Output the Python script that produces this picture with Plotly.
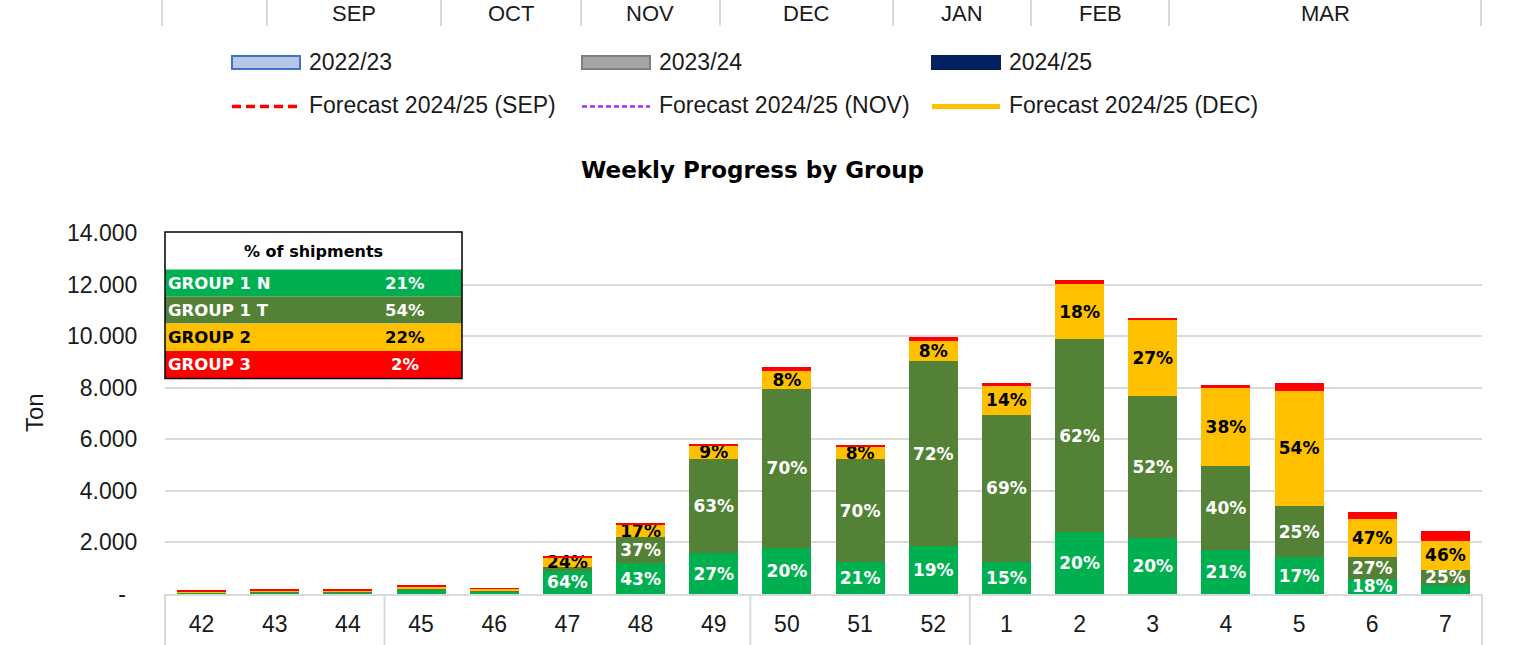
import plotly.graph_objects as go

# ---------------- data ----------------
weeks = ['42', '43', '44', '45', '46', '47', '48', '49', '50', '51', '52',
         '1', '2', '3', '4', '5', '6', '7']
group1_n = [40, 60, 70, 170, 90, 910, 1190, 1580, 1800, 1230, 1860, 1260, 2400, 2160, 1700, 1420, 590, 340]
group1_t = [15, 20, 20, 30, 30, 140, 1030, 3640, 6140, 4010, 7160, 5670, 7480, 5530, 3250, 2000, 860, 600]
group2 = [30, 50, 60, 60, 80, 370, 470, 540, 700, 470, 800, 1150, 2140, 2920, 3050, 4460, 1470, 1130]
group3 = [45, 30, 30, 90, 20, 30, 60, 60, 160, 80, 130, 110, 150, 90, 90, 310, 270, 360]

label_g1n = ['', '', '', '', '', '64%', '43%', '27%', '20%', '21%', '19%', '15%', '20%', '20%', '21%', '17%', '18%', '']
label_g1t = ['', '', '', '', '', '', '37%', '63%', '70%', '70%', '72%', '69%', '62%', '52%', '40%', '25%', '27%', '25%']
label_g2 = ['', '', '', '', '', '24%', '17%', '9%', '8%', '8%', '8%', '14%', '18%', '27%', '38%', '54%', '47%', '46%']

series_names = ['GROUP 1 N', 'GROUP 1 T', 'GROUP 2', 'GROUP 3']
table_title = '% of shipments'
table_shares = ['21%', '54%', '22%', '2%']

month_labels = ['SEP', 'OCT', 'NOV', 'DEC', 'JAN', 'FEB', 'MAR']
legend_labels = ['2022/23', '2023/24', '2024/25',
                 'Forecast 2024/25 (SEP)', 'Forecast 2024/25 (NOV)', 'Forecast 2024/25 (DEC)']

y_tick_vals = [0, 2000, 4000, 6000, 8000, 10000, 12000, 14000]
y_tick_text = ['-\u2002', '2.000', '4.000', '6.000', '8.000', '10.000', '12.000', '14.000']

chart_title = 'Weekly Progress by Group'
y_title = 'Ton'

# ---------------- style / layout ----------------
W, H = 1517, 645
L, R, T, B = 165, 1482, 233, 594   # plot area in pixels
GREEN, DKGREEN, YELLOW, RED = '#00B050', '#538135', '#FFC000', '#FF0000'
GRID = '#D9D9D9'
AX_FONT = 'Liberation Sans, Arial, sans-serif'
BOLD_FONT = 'DejaVu Sans, sans-serif'
TXT = '#1a1a1a'


def px(xp):
    return (xp - L) / (R - L)


def py(yp):
    return (B - yp) / (B - T)


fig = go.Figure()

colors = [GREEN, DKGREEN, YELLOW, RED]
values = [group1_n, group1_t, group2, group3]
labels = [label_g1n, label_g1t, label_g2, [''] * len(weeks)]
text_colors = ['white', 'white', 'black', 'white']
for name, vals, col, lab, tc in zip(series_names, values, colors, labels, text_colors):
    fig.add_trace(go.Bar(
        x=weeks, y=vals, name=name,
        marker=dict(color=col, line=dict(width=0)),
        text=lab, textposition='inside', insidetextanchor='middle', textangle=0,
        insidetextfont=dict(family=BOLD_FONT, size=17, color=tc, weight='bold'),
        cliponaxis=True, showlegend=False, hoverinfo='skip',
    ))

shapes = []
annotations = []

# header strip (month separators)
for xp in [162, 267, 441, 581, 720, 893, 1031, 1169, 1481]:
    shapes.append(dict(type='line', xref='paper', yref='paper',
                       x0=px(xp), x1=px(xp), y0=py(-2), y1=py(26),
                       line=dict(color=GRID, width=2)))
month_centers = [354, 511, 650, 806, 962, 1100, 1325]
for lab, xc in zip(month_labels, month_centers):
    annotations.append(dict(text=lab, xref='paper', yref='paper', x=px(xc), y=py(0),
                            xanchor='center', yanchor='top', showarrow=False, borderpad=0,
                            font=dict(family=AX_FONT, size=22, color=TXT)))

# legend (belongs to chart above)
sw_x = [232, 582, 932]
fills = ['#B4C7E7', '#A5A5A5', '#002060']
borders = ['#4472C4', '#7F7F7F', '#002060']
for i in range(3):
    shapes.append(dict(type='rect', xref='paper', yref='paper',
                       x0=px(sw_x[i]), x1=px(sw_x[i] + 68), y0=py(56), y1=py(69),
                       fillcolor=fills[i], line=dict(color=borders[i], width=2)))
    annotations.append(dict(text=legend_labels[i], xref='paper', yref='paper',
                            x=px(sw_x[i] + 75), y=py(61.5), xanchor='left', yanchor='middle',
                            showarrow=False, font=dict(family=AX_FONT, size=23, color=TXT)))
line_styles = [dict(color='#FF0000', width=3.5, dash='9px,5px'),
               dict(color='#9933FF', width=2.5, dash='5px,3px'),
               dict(color='#FFC000', width=5, dash='solid')]
for i in range(3):
    shapes.append(dict(type='line', xref='paper', yref='paper',
                       x0=px(sw_x[i]), x1=px(sw_x[i] + 68), y0=py(106.5), y1=py(106.5),
                       line=line_styles[i]))
    annotations.append(dict(text=legend_labels[3 + i], xref='paper', yref='paper',
                            x=px(sw_x[i] + 75), y=py(105.5), xanchor='left', yanchor='middle',
                            showarrow=False, font=dict(family=AX_FONT, size=23, color=TXT)))

# chart title
annotations.append(dict(text='<b>' + chart_title + '</b>', xref='paper', yref='paper',
                        x=px(752), y=py(170), xanchor='center', yanchor='middle', showarrow=False,
                        font=dict(family=BOLD_FONT, size=23, color='black')))

# y axis title
annotations.append(dict(text=y_title, xref='paper', yref='paper', x=px(34), y=py(413),
                        xanchor='center', yanchor='middle', textangle=-90, showarrow=False,
                        font=dict(family=AX_FONT, size=24, color=TXT)))

# x-axis group dividers below the axis
for idx in [0, 3, 8, 11, 18]:
    xp = L + idx * (R - L) / len(weeks)
    shapes.append(dict(type='line', xref='paper', yref='paper',
                       x0=px(xp), x1=px(xp), y0=0, y1=py(H + 5),
                       line=dict(color=GRID, width=2)))

# table of shares
tx0, tx1 = 165, 462
row_edges = [232, 269.5, 296.5, 323.5, 351, 378.5]
shapes.append(dict(type='rect', xref='paper', yref='paper', x0=px(tx0), x1=px(tx1),
                   y0=py(row_edges[0]), y1=py(row_edges[1]), fillcolor='white', line=dict(width=0)))
for i in range(4):
    shapes.append(dict(type='rect', xref='paper', yref='paper', x0=px(tx0), x1=px(tx1),
                       y0=py(row_edges[i + 1]), y1=py(row_edges[i + 2]),
                       fillcolor=colors[i], line=dict(width=0)))
    yc = (row_edges[i + 1] + row_edges[i + 2]) / 2
    annotations.append(dict(text='<b>' + series_names[i] + '</b>', xref='paper', yref='paper',
                            x=px(tx0 + 1), y=py(yc), xanchor='left', yanchor='middle', showarrow=False,
                            font=dict(family=BOLD_FONT, size=16.5, color=text_colors[i])))
    annotations.append(dict(text='<b>' + table_shares[i] + '</b>', xref='paper', yref='paper',
                            x=px(405), y=py(yc), xanchor='center', yanchor='middle', showarrow=False,
                            font=dict(family=BOLD_FONT, size=16.5, color=text_colors[i])))
shapes.append(dict(type='rect', xref='paper', yref='paper', x0=px(tx0), x1=px(tx1),
                   y0=py(row_edges[0]), y1=py(row_edges[-1]), fillcolor='rgba(0,0,0,0)',
                   line=dict(color='black', width=1.5)))
annotations.append(dict(text='<b>' + table_title + '</b>', xref='paper', yref='paper',
                        x=px(313.5), y=py(251), xanchor='center', yanchor='middle', showarrow=False,
                        font=dict(family=BOLD_FONT, size=16, color='black')))

fig.update_layout(
    width=W, height=H, autosize=False,
    margin=dict(l=L, r=W - R, t=T, b=H - B, pad=0, autoexpand=False),
    barmode='stack', bargap=0.33,
    plot_bgcolor='white', paper_bgcolor='white',
    shapes=shapes, annotations=annotations,
    uniformtext=dict(minsize=17, mode='show'),
    xaxis=dict(type='category', range=[-0.5, 17.5], showgrid=False, zeroline=False,
               showline=True, linecolor=GRID, linewidth=2, automargin=False,
               ticks='outside', ticklen=8, tickcolor='rgba(0,0,0,0)',
               tickfont=dict(family=AX_FONT, size=23, color=TXT)),
    yaxis=dict(range=[0, 14000], tickvals=y_tick_vals, ticktext=y_tick_text, automargin=False,
               showgrid=True, gridcolor=GRID, gridwidth=2, zeroline=False, showline=False,
               ticks='outside', ticklen=22, tickcolor='rgba(0,0,0,0)',
               tickfont=dict(family=AX_FONT, size=23, color=TXT)),
)

fig.write_html('out.html', config={'displayModeBar': False},
               post_script="document.body.style.margin='0';")
